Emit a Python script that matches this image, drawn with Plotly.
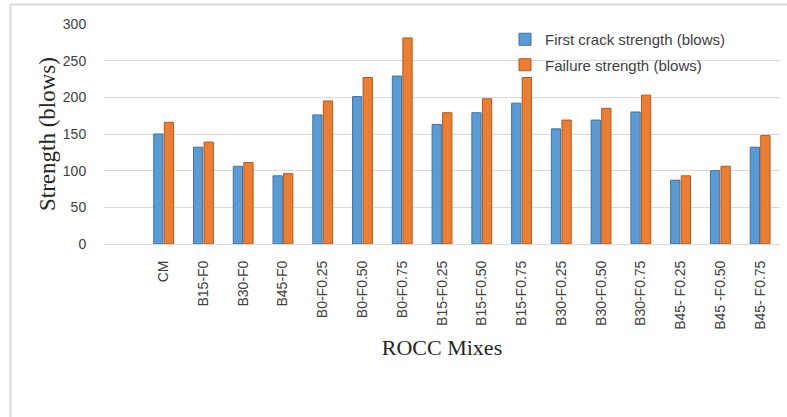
import plotly.graph_objects as go

categories = ["CM", "B15-F0", "B30-F0", "B45-F0", "B0-F0.25", "B0-F0.50", "B0-F0.75",
              "B15-F0.25", "B15-F0.50", "B15-F0.75", "B30-F0.25", "B30-F0.50", "B30-F0.75",
              "B45- F0.25", "B45 -F0.50", "B45- F0.75"]
first_crack = [150, 132, 106, 93, 176, 201, 229, 163, 179, 192, 157, 169, 180, 87, 100, 132]
failure = [166, 139, 111, 96, 195, 227, 281, 179, 198, 227, 169, 185, 203, 93, 106, 148]
y_ticks = [0, 50, 100, 150, 200, 250, 300]

L, R, T, B = 104, 7, 24, 173
W, H = 787, 417
pw, ph = W - L - R, H - T - B

def px(x):
    return (x - L) / pw

def py(y):
    return (T + ph - y) / ph

fig = go.Figure()
fig.add_trace(go.Bar(x=categories, y=first_crack, name="First crack strength (blows)",
                     legendgroup="a",
                     marker=dict(color="#5B9BD5", line=dict(color="#41719C", width=1))))
fig.add_trace(go.Bar(x=categories, y=failure, name="Failure strength (blows)",
                     legendgroup="b",
                     marker=dict(color="#ED7D31", line=dict(color="#AE5A21", width=1))))

fig.update_layout(
    width=W, height=H,
    margin=dict(l=L, r=R, t=T, b=B, pad=0),
    paper_bgcolor="white", plot_bgcolor="white",
    barmode="group", bargap=0.47, bargroupgap=0.12,
    font=dict(family="Liberation Sans", color="#595959"),
    showlegend=True,
    legend=dict(x=px(505), y=py(23), xanchor="left", yanchor="top",
                bgcolor="rgba(0,0,0,0)", font=dict(size=15, color="#404040"),
                traceorder="grouped", tracegroupgap=3, itemwidth=30),
    xaxis=dict(type="category", range=[-1.5, 15.5], tickangle=-90,
               tickfont=dict(size=14, color="#404040"),
               showline=True, linecolor="#d9d9d9", linewidth=1,
               ticks="outside", ticklen=10, tickcolor="rgba(0,0,0,0)",
               title=dict(text="ROCC Mixes", standoff=10,
                          font=dict(family="Liberation Serif", size=22, color="#262626"))),
    yaxis=dict(range=[0, 300], tickvals=y_ticks, showgrid=True, gridcolor="#d9d9d9",
               gridwidth=1, zeroline=False,
               tickfont=dict(size=14, color="#404040"),
               ticks="outside", ticklen=14, tickcolor="rgba(0,0,0,0)",
               title=dict(text="Strength (blows)", standoff=0,
                          font=dict(family="Liberation Serif", size=23, color="#262626"))),
    shapes=[
        dict(type="line", xref="paper", yref="paper", x0=px(10.5), x1=px(787), y0=py(4.5), y1=py(4.5),
             line=dict(color="#d9d9d9", width=2)),
        dict(type="line", xref="paper", yref="paper", x0=px(10.5), x1=px(10.5), y0=py(4.5), y1=py(417),
             line=dict(color="#d9d9d9", width=2)),
    ],
)

fig.write_html("out.html", config={"displayModeBar": False},
               post_script="document.body.style.margin='0';document.body.style.overflow='hidden';")
